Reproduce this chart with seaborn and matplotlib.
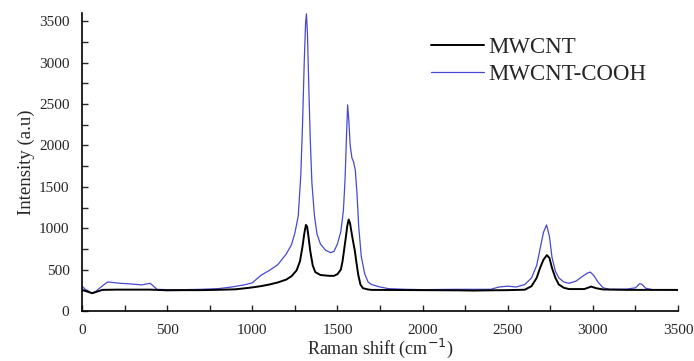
import numpy as np
import pandas as pd
import matplotlib
matplotlib.use('Agg')
import matplotlib.pyplot as plt
import seaborn as sns
from matplotlib.ticker import MultipleLocator

# spectra (Raman shift in cm-1, intensity in a.u.)
shift_mwcnt = [0, 30, 60, 90, 120, 200, 300, 400, 500, 600, 700, 800, 900, 960,
               1000, 1050, 1100, 1150, 1200, 1230, 1260, 1280, 1295, 1305, 1315,
               1322, 1330, 1340, 1355, 1370, 1400, 1450, 1480, 1500, 1520, 1530,
               1540, 1550, 1558, 1566, 1574, 1582, 1592, 1602, 1612, 1622, 1635,
               1650, 1680, 1700, 2000, 2200, 2300, 2400, 2500, 2600, 2640, 2670,
               2690, 2710, 2730, 2745, 2760, 2780, 2800, 2830, 2860, 2950, 2990,
               3020, 3060, 3200, 3300, 3500]
int_mwcnt = [255, 235, 215, 235, 255, 258, 258, 258, 250, 252, 252, 256, 262, 275,
             285, 300, 320, 345, 380, 420, 490, 600, 780, 930, 1040,
             1020, 900, 730, 550, 470, 435, 425, 425, 445, 500, 600,
             750, 900, 1030, 1105, 1060, 960, 840, 730, 580, 440, 320,
             275, 260, 255, 252, 250, 247, 250, 252, 257, 300, 400,
             520, 620, 675, 640, 520, 400, 320, 280, 265, 265, 295,
             275, 260, 255, 255, 255]

shift_cooh = [0, 20, 40, 58, 80, 100, 130, 150, 180, 220, 260, 300, 350, 400,
              420, 440, 500, 600, 700, 800, 880, 950, 1000, 1050, 1100, 1150,
              1200, 1230, 1250, 1270, 1285, 1295, 1305, 1313, 1318, 1324, 1332,
              1340, 1350, 1365, 1380, 1400, 1430, 1460, 1480, 1500, 1520, 1535,
              1545, 1553, 1560, 1567, 1575, 1585, 1595, 1605, 1615, 1625, 1640,
              1660, 1680, 1700, 1750, 1800, 1900, 2000, 2200, 2400, 2450, 2500,
              2550, 2600, 2640, 2670, 2690, 2710, 2728, 2745, 2760, 2780, 2800,
              2830, 2860, 2900, 2940, 2970, 2985, 3005, 3030, 3060, 3100, 3200,
              3250, 3275, 3290, 3310, 3350, 3450, 3500]
int_cooh = [300, 260, 235, 215, 235, 270, 320, 350, 345, 335, 330, 325, 315, 335,
            300, 262, 258, 258, 262, 270, 290, 315, 340, 430, 490, 560,
            690, 800, 940, 1150, 1650, 2250, 3000, 3480, 3590, 3350, 2700,
            2100, 1550, 1150, 930, 810, 735, 705, 720, 810, 960, 1210,
            1600, 2100, 2490, 2300, 2000, 1850, 1800, 1700, 1420, 1020, 660,
            450, 350, 320, 290, 270, 262, 258, 262, 262, 290, 300,
            290, 320, 400, 550, 750, 950, 1040, 900, 650, 480, 400,
            350, 335, 360, 420, 460, 470, 430, 350, 280, 262, 265,
            280, 330, 320, 275, 258, 255, 255]

df1 = pd.DataFrame({'shift': shift_mwcnt, 'intensity': int_mwcnt})
df2 = pd.DataFrame({'shift': shift_cooh, 'intensity': int_cooh})

sns.set_style('white')
plt.rcParams['font.family'] = ['Liberation Serif', 'DejaVu Serif']

fig = plt.figure(figsize=(6.94, 3.61), dpi=100)
ax = fig.add_axes([82/694, 1-311/361, 596/694, 298/361])

sns.lineplot(data=df2, x='shift', y='intensity', ax=ax, color='#4848d0',
             linewidth=0.9, label='MWCNT-COOH')
sns.lineplot(data=df1, x='shift', y='intensity', ax=ax, color='black',
             linewidth=1.4, label='MWCNT')

ax.set_xlim(0, 3500)
ax.set_ylim(0, 3600)
ax.xaxis.set_major_locator(MultipleLocator(500))
ax.xaxis.set_minor_locator(MultipleLocator(250))
ax.yaxis.set_major_locator(MultipleLocator(500))
ax.yaxis.set_minor_locator(MultipleLocator(250))
ax.tick_params(which='both', direction='in', length=4, width=1, labelsize=11,
               bottom=True, left=True, top=False, right=False)
ax.tick_params(axis='x', pad=9)
ax.tick_params(axis='y', pad=9)
for s in ['top', 'right']:
    ax.spines[s].set_visible(False)
for s in ['left', 'bottom']:
    ax.spines[s].set_color('black')
    ax.spines[s].set_linewidth(1.2)

ax.set_xlabel('Raman shift (cm$^{-1}$)', fontsize=13, labelpad=0)
ax.set_ylabel('Intensity (a.u)', fontsize=13.5, labelpad=3)

h, l = ax.get_legend_handles_labels()
ax.legend(h[::-1], l[::-1], loc='upper left', bbox_to_anchor=(431/694, 1-37/361),
          bbox_transform=fig.transFigure, frameon=False, fontsize=16.5,
          handlelength=2.3, handletextpad=0.2, labelspacing=0.25, borderpad=0,
          borderaxespad=0)

fig.savefig('out.png', dpi=100)
